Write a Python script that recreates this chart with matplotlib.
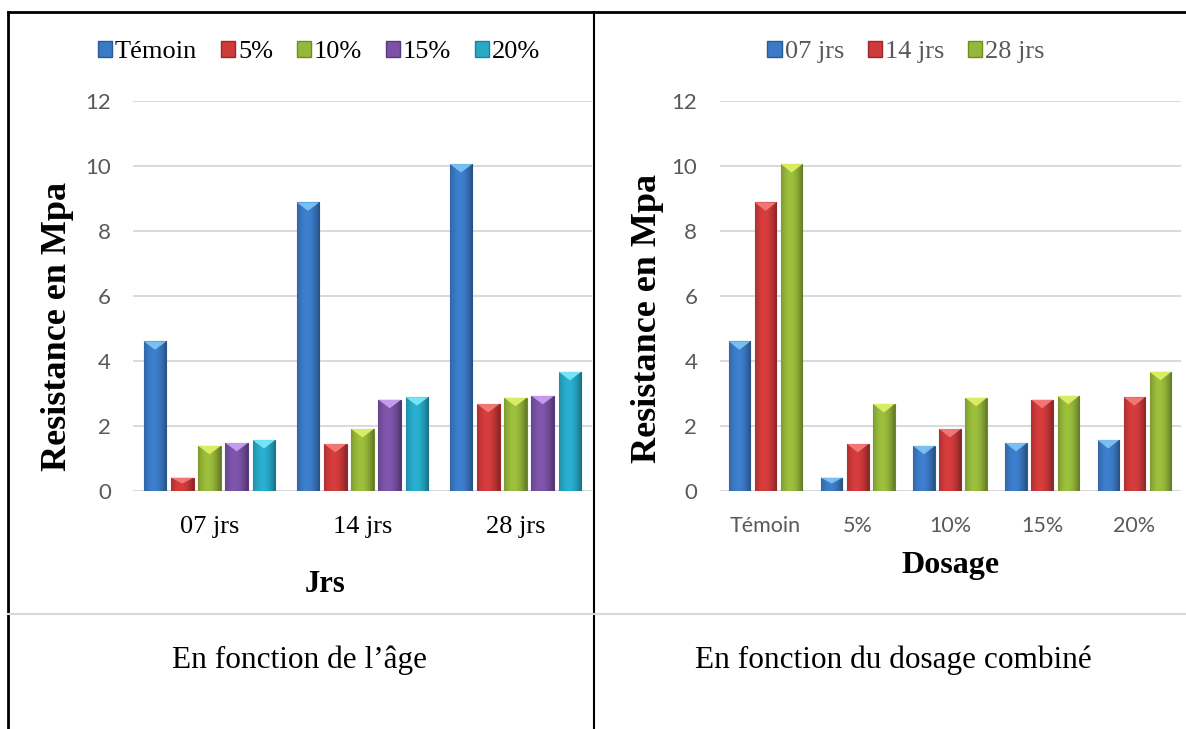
import numpy as np
import matplotlib
matplotlib.use("Agg")
import matplotlib.pyplot as plt
from matplotlib.colors import to_rgb
from matplotlib.patches import Polygon, Patch
from matplotlib.lines import Line2D

# données (résistance en MPa)
ages = ["07 jrs", "14 jrs", "28 jrs"]
dosages = ["Témoin", "5%", "10%", "15%", "20%"]
val_07 = [4.60, 0.40, 1.38, 1.47, 1.56]
val_14 = [8.88, 1.44, 1.90, 2.80, 2.88]
val_28 = [10.06, 2.67, 2.86, 2.92, 3.66]

# couleurs (base, bord, sommet)
dose_colors = [("#3B7AC6", "#2A5A97", "#7CC4F4"),
               ("#CF3A3A", "#9E2828", "#F47A7A"),
               ("#96B83A", "#6E8C26", "#DDF066"),
               ("#7B52A6", "#58397E", "#C7A0EE"),
               ("#27A9C7", "#1A8299", "#7BE8F7")]
age_colors = dose_colors[:3]

W, H = 1186, 729
SERIF = "Liberation Serif"
SANS = "Lato"


def px(x, y):
    return x / W, 1 - y / H


def shade_bar(ax, patch, base, top):
    x0, y0 = patch.get_x(), patch.get_y()
    w, h = patch.get_width(), patch.get_height()
    rgb = np.array(to_rgb(base))
    t = np.linspace(0, 1, 50)
    f = 0.72 + 0.38 * np.sin(np.pi * (0.1 + 0.85 * t)) - 0.12 * t
    grad = np.clip(rgb[None, :] * f[:, None], 0, 1)[None, :, :]
    im = ax.imshow(grad, extent=[x0, x0 + w, y0, y0 + h], aspect="auto",
                   zorder=2, interpolation="bilinear")
    im.set_clip_path(patch)
    d = min(0.26, h * 0.45)
    tri = Polygon([(x0, y0 + h), (x0 + w, y0 + h), (x0 + w / 2, y0 + h - d)],
                  closed=True, facecolor=top, edgecolor="none", alpha=0.95, zorder=3)
    ax.add_patch(tri)


def grouped(ax, cats, series, colors, width, step):
    n = len(series)
    xs = np.arange(len(cats))
    for i, vals in enumerate(series):
        base, edge, top = colors[i]
        bars = ax.bar(xs + (i - (n - 1) / 2) * step, vals, width, color=base,
                      edgecolor=edge, linewidth=0.8, zorder=2)
        for b in bars:
            shade_bar(ax, b, base, top)
    ax.set_xlim(-0.5, len(cats) - 0.5)
    ax.set_ylim(0, 12)
    ax.set_yticks(range(0, 13, 2))
    ax.set_xticks(xs)
    ax.grid(axis="y", color="#D9D9D9", linewidth=1.4, zorder=0)
    ax.set_axisbelow(True)
    for s in ax.spines.values():
        s.set_visible(False)
    ax.tick_params(length=0)
    ax.tick_params(axis="y", pad=16, labelsize=16, labelcolor="#595959")
    for lab in ax.get_yticklabels():
        lab.set_fontfamily(SANS)


fig = plt.figure(figsize=(W / 100, H / 100), dpi=100)

# --- graphique gauche : en fonction de l'âge
ax1 = fig.add_axes([133 / W, 1 - 490.7 / H, (592 - 133) / W, 389.6 / H])
series_by_dose = [[val_07[k], val_14[k], val_28[k]] for k in range(5)]
grouped(ax1, ages, series_by_dose, dose_colors, 0.147, 0.178)
ax1.set_xticklabels(ages, fontfamily=SERIF, fontsize=19, color="black")
ax1.tick_params(axis="x", pad=18)

# --- graphique droit : en fonction du dosage
ax2 = fig.add_axes([719.5 / W, 1 - 490.7 / H, 461 / W, 389.6 / H])
grouped(ax2, dosages, [val_07, val_14, val_28], age_colors, 0.234, 0.283)
ax2.set_xticklabels(dosages, fontfamily=SANS, fontsize=15.5, color="#595959")
ax2.tick_params(axis="x", pad=18)

# légendes
h1 = [Patch(facecolor=c[0], edgecolor=c[1]) for c in dose_colors]
fig.legend(h1, dosages, loc="center", bbox_to_anchor=px(319, 52), ncol=5,
           frameon=False, prop={"family": SERIF, "size": 19},
           handlelength=0.55, handleheight=0.55, handletextpad=0.1,
           columnspacing=0.9, borderpad=0)
h2 = [Patch(facecolor=c[0], edgecolor=c[1]) for c in age_colors]
leg2 = fig.legend(h2, ages, loc="center", bbox_to_anchor=px(906, 52), ncol=3,
                  frameon=False, prop={"family": SERIF, "size": 19},
                  handlelength=0.55, handleheight=0.55, handletextpad=0.1,
                  columnspacing=0.9, borderpad=0)
for t in leg2.get_texts():
    t.set_color("#595959")

# titres d'axes
ylab = dict(rotation=90, ha="center", va="center", fontfamily=SERIF,
            fontweight="bold", fontsize=26)
fig.text(*px(58, 326), "Resistance en Mpa", **ylab)
fig.text(*px(648, 318), "Resistance en Mpa", **ylab)
fig.text(*px(325, 592), "Jrs", ha="center", va="baseline", fontfamily=SERIF,
         fontweight="bold", fontsize=22)
fig.text(*px(950, 573), "Dosage", ha="center", va="baseline", fontfamily=SERIF,
         fontweight="bold", fontsize=23)

# légendes du tableau
fig.text(*px(300, 668), "En fonction de l\u2019\u00e2ge", ha="center", va="baseline",
         fontfamily=SERIF, fontsize=22.5)
fig.text(*px(893, 668), "En fonction du dosage combin\u00e9", ha="center",
         va="baseline", fontfamily=SERIF, fontsize=22.5)

# bordures du tableau
x0, y0 = px(8, 12)
xm, _ = px(594, 0)
_, yb = px(0, 729)
_, yh = px(0, 614)
fig.add_artist(Line2D([x0, 1], [y0, y0], color="black", linewidth=2))
fig.add_artist(Line2D([x0, x0], [y0, yb], color="black", linewidth=2))
fig.add_artist(Line2D([xm, xm], [y0, yb], color="black", linewidth=1.5))
fig.add_artist(Line2D([x0, 1], [yh, yh], color="#D9D9D9", linewidth=1.5))

fig.savefig("out.png", dpi=100)
